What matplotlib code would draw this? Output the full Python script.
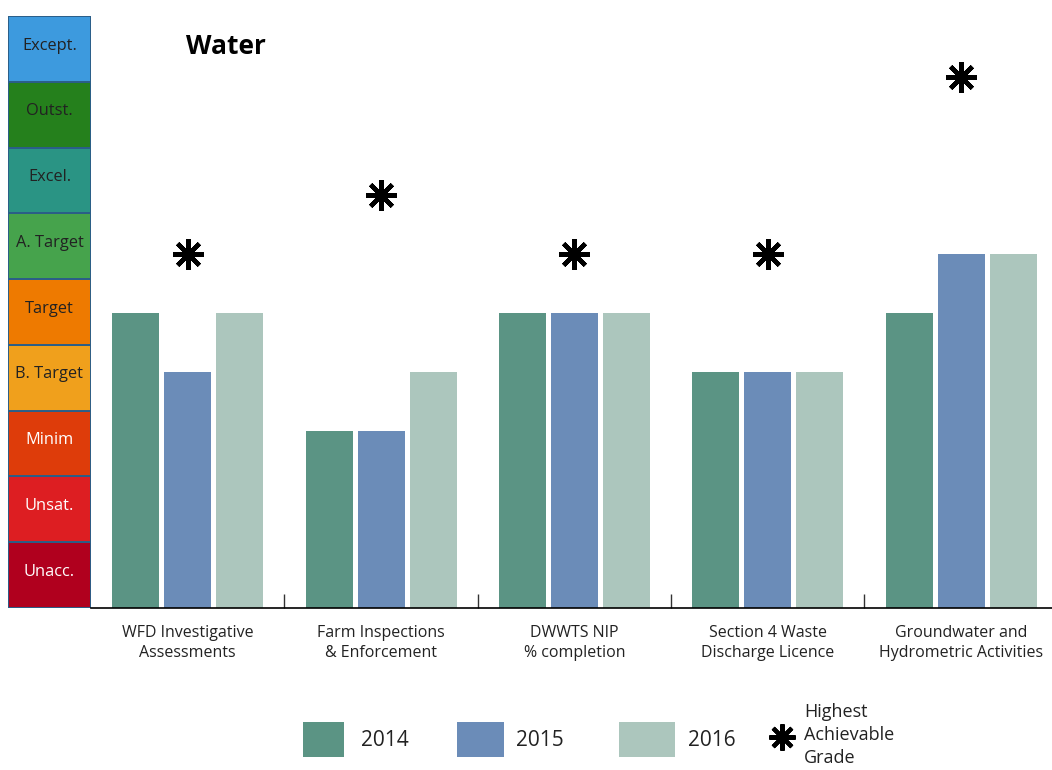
import matplotlib

matplotlib.use("Agg")
import matplotlib.pyplot as plt  # noqa: E402
import numpy as np  # noqa: E402
from matplotlib.patches import Rectangle  # noqa: E402
from matplotlib.lines import Line2D  # noqa: E402
from matplotlib.markers import MarkerStyle  # noqa: E402

plt.rcParams["font.family"] = ["Open Sans", "DejaVu Sans"]

# grade scale, bottom to top
GRADE_LABELS = ["Unacc.", "Unsat.", "Minim", "B. Target", "Target",
                "A. Target", "Excel.", "Outst.", "Except."]
GRADE_COLORS = ["#b0001e", "#dd1e22", "#de3c0a", "#f0a01c", "#ee7a00",
                "#46a34c", "#2a9484", "#25801c", "#3d9ade"]
GRADE_TEXT = ["white", "white", "white", "#222222", "#222222",
              "#222222", "#222222", "#222222", "#222222"]

CATEGORIES = [
    "WFD Investigative\nAssessments",
    "Farm Inspections\n& Enforcement",
    "DWWTS NIP\n% completion",
    "Section 4 Waste\nDischarge Licence",
    "Groundwater and\nHydrometric Activities",
]
YEARS = ["2014", "2015", "2016"]
GRADE_2014 = [5, 3, 5, 4, 5]
GRADE_2015 = [4, 3, 5, 4, 6]
GRADE_2016 = [5, 4, 5, 4, 6]
HIGHEST = [6, 7, 6, 6, 9]

YEAR_COLORS = ["#5b9484", "#6b8cb8", "#acc6bd"]
TEXT_COLOR = "#222222"

W, H = 1052, 770
fig = plt.figure(figsize=(W / 100, H / 100), dpi=100)


def fx(px):
    return px / W


def fy(py):
    return 1 - py / H


star = MarkerStyle((8, 2, 0), capstyle="round")

# left-hand grade scale
ax_s = fig.add_axes([fx(8), fy(608), fx(83), (608 - 16) / H])
ax_s.set_xlim(0, 1)
ax_s.set_ylim(0, len(GRADE_LABELS))
for i, (lab, col, tc) in enumerate(zip(GRADE_LABELS, GRADE_COLORS, GRADE_TEXT)):
    ax_s.add_patch(Rectangle((0, i), 1, 1, facecolor=col, edgecolor="#2b5e88", lw=1.4))
    ax_s.text(0.5, i + 0.55, lab, ha="center", va="center", fontsize=11.8, color=tc)
ax_s.axis("off")

# bars
ax = fig.add_axes([fx(91), fy(608), fx(961), (608 - 16) / H])
x = np.arange(len(CATEGORIES))
step = 0.269
width = 0.243
for k, (vals, col) in enumerate(zip([GRADE_2014, GRADE_2015, GRADE_2016], YEAR_COLORS)):
    ax.bar(x + (k - 1) * step, vals, width=width, color=col, zorder=2)

ax.plot(x, HIGHEST, ls="none", marker=star, ms=22, mew=3.2,
        color="black", zorder=3)

ax.set_xlim(-0.5, 4.47)
ax.set_ylim(0, 592 / 59)
for s in ["top", "right", "left"]:
    ax.spines[s].set_visible(False)
ax.spines["bottom"].set_color("black")
ax.spines["bottom"].set_linewidth(1.2)
ax.set_yticks([])
ax.set_xticks(x[:-1] + 0.5)
ax.set_xticklabels([])
ax.tick_params(axis="x", which="major", direction="in", length=10, width=1, color="#333333")
ax.set_xticks(x, minor=True)
ax.set_xticklabels(CATEGORIES, minor=True, fontsize=11.5, color=TEXT_COLOR,
                   linespacing=1.4)
ax.tick_params(axis="x", which="minor", length=0, pad=12)

fig.text(fx(186), fy(47), "Water", fontsize=19, fontweight="bold",
         ha="left", va="center", color="black")

# legend
leg = [(303, 344, 361), (457, 504, 516), (619, 675, 688)]
for (x0, x1, tx), col, yr in zip(leg, YEAR_COLORS, YEARS):
    fig.patches.append(Rectangle((fx(x0), fy(757)), fx(x1 - x0), (757 - 722) / H,
                                 transform=fig.transFigure, facecolor=col,
                                 edgecolor="none"))
    fig.text(fx(tx), fy(740), yr, fontsize=15, ha="left", va="center", color=TEXT_COLOR)
fig.lines.append(Line2D([fx(782)], [fy(737)], transform=fig.transFigure,
                        marker=star, ms=19, mew=3, color="black", ls="none"))
fig.text(fx(804), fy(735), "Highest\nAchievable\nGrade", fontsize=13,
         ha="left", va="center", color=TEXT_COLOR, linespacing=1.35)

fig.savefig("out.png", dpi=100)
